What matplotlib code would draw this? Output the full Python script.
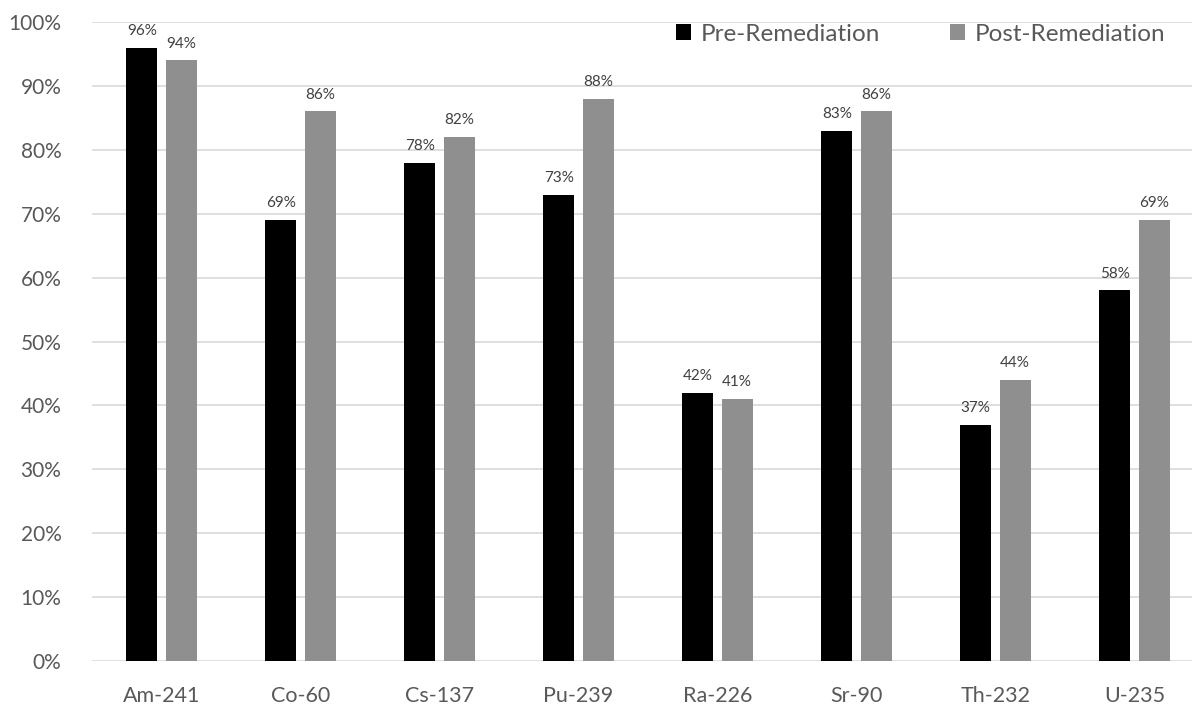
import matplotlib
matplotlib.use("Agg")
import matplotlib.pyplot as plt
import numpy as np

isotopes = ["Am-241", "Co-60", "Cs-137", "Pu-239", "Ra-226", "Sr-90", "Th-232", "U-235"]
pre_remediation = [96, 69, 78, 73, 42, 83, 37, 58]
post_remediation = [94, 86, 82, 88, 41, 86, 44, 69]
y_ticks = [0, 10, 20, 30, 40, 50, 60, 70, 80, 90, 100]

plt.rcParams["font.family"] = ["Lato", "DejaVu Sans"]
text_color = "#595959"

fig = plt.figure(figsize=(11.92, 7.04), dpi=100)
ax = fig.add_axes([92 / 1192, 43 / 704, 1100 / 1192, 639 / 704])

x = np.arange(len(isotopes))
width = 0.223
offset = 0.142
b1 = ax.bar(x - offset, pre_remediation, width, color="#000000", label="Pre-Remediation", zorder=3)
b2 = ax.bar(x + offset, post_remediation, width, color="#8f8f8f", label="Post-Remediation", zorder=3)

for bars, vals in ((b1, pre_remediation), (b2, post_remediation)):
    for rect, v in zip(bars, vals):
        ax.annotate(f"{v}%", (rect.get_x() + rect.get_width() / 2, v),
                    xytext=(0, 7), textcoords="offset points",
                    ha="center", va="bottom", fontsize=11, color="#404040")

ax.set_xlim(-0.5, 7.414)
ax.set_ylim(0, 100)
ax.set_yticks(y_ticks)
ax.set_yticklabels([f"{t}%" for t in y_ticks])
ax.set_xticks(x)
ax.set_xticklabels(isotopes)
ax.tick_params(axis="both", length=0, labelsize=15, colors=text_color)
ax.tick_params(axis="x", labelsize=15.5, pad=18)
ax.tick_params(axis="y", pad=22)
ax.yaxis.grid(True, color="#d9d9d9", linewidth=1.2, zorder=0)
for s in ax.spines.values():
    s.set_visible(False)

leg = ax.legend(loc="upper right", bbox_to_anchor=(1.0 - 17 / 1100, 1.0 + 8 / 639), ncol=2,
                frameon=False, fontsize=17.5, handlelength=0.6, handleheight=0.6,
                handletextpad=0.4, columnspacing=2.9, borderaxespad=0.0)
for t in leg.get_texts():
    t.set_color(text_color)

fig.savefig("out.png", dpi=100)
